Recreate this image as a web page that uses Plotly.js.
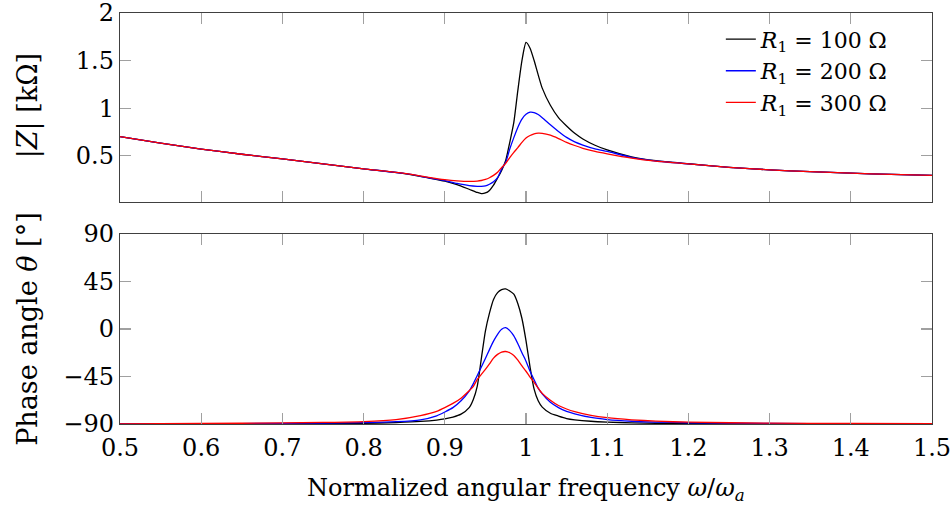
<!DOCTYPE html>
<html><head><meta charset="utf-8">
<script src="https://cdn.plot.ly/plotly-3.0.1.min.js"></script>
<style>html,body{margin:0;padding:0;background:#fff}#chart{width:952px;height:513px}</style>
</head><body><div id="chart"></div>
<script>
// ---- data ----
const seriesNames = ['<i>R</i><sub>1</sub> = 100 Ω', '<i>R</i><sub>1</sub> = 200 Ω', '<i>R</i><sub>1</sub> = 300 Ω'];
const seriesColors = ['#000000', '#0000ff', '#ff0000'];

// |Z| in kΩ vs normalized angular frequency
const omegaMag = [0.5,0.55,0.6,0.65,0.7,0.75,0.8,0.85,0.88,0.9,0.915,0.93,0.94,0.945,0.95,0.955,0.96,0.965,0.97,0.975,0.98,0.985,0.99,0.995,1.0,1.005,1.01,1.015,1.02,1.03,1.04,1.05,1.06,1.07,1.085,1.1,1.13,1.16,1.2,1.25,1.3,1.35,1.4,1.45,1.5];
const magR100 = [0.70,0.632,0.57,0.515,0.466,0.414,0.362,0.312,0.266,0.232,0.196,0.147,0.113,0.102,0.108,0.135,0.19,0.265,0.345,0.45,0.64,0.85,1.19,1.50,1.69,1.63,1.50,1.35,1.21,1.03,0.90,0.812,0.735,0.676,0.61,0.56,0.488,0.447,0.415,0.378,0.351,0.332,0.316,0.303,0.292];
const magR200 = [0.70,0.632,0.57,0.515,0.466,0.414,0.362,0.313,0.268,0.238,0.208,0.185,0.178,0.177,0.182,0.20,0.225,0.27,0.36,0.43,0.57,0.69,0.80,0.885,0.935,0.957,0.953,0.933,0.90,0.826,0.755,0.692,0.645,0.612,0.572,0.545,0.482,0.444,0.414,0.378,0.351,0.332,0.316,0.303,0.292];
const magR300 = [0.70,0.632,0.57,0.515,0.466,0.414,0.362,0.314,0.272,0.248,0.236,0.23,0.233,0.239,0.25,0.268,0.293,0.325,0.375,0.42,0.48,0.535,0.585,0.64,0.685,0.712,0.73,0.737,0.735,0.715,0.68,0.64,0.607,0.578,0.545,0.52,0.475,0.442,0.413,0.378,0.351,0.332,0.316,0.303,0.292];

// phase angle in degrees
const omegaPh = [0.5,0.6,0.7,0.75,0.8,0.84,0.87,0.89,0.9,0.91,0.92,0.93,0.935,0.94,0.945,0.95,0.955,0.96,0.965,0.97,0.975,0.98,0.985,0.99,0.995,1.0,1.005,1.01,1.015,1.02,1.03,1.04,1.05,1.06,1.08,1.1,1.13,1.16,1.2,1.3,1.4,1.5];
const phR100 = [-89.9,-89.8,-89.7,-89.6,-89.4,-88.6,-87.6,-86.3,-85.2,-83.5,-80.7,-74.5,-67,-54,-28,-2,15,28,34.5,37.3,38,36,33,24,10,-11,-36,-57,-68,-74,-79.8,-82.5,-84.8,-86,-87.4,-88.2,-88.9,-89.3,-89.5,-89.8,-89.9,-89.95];
const phR200 = [-89.9,-89.7,-89.4,-89.1,-88.7,-87.8,-86,-82.2,-78.6,-74.5,-68,-58.8,-52,-44,-36,-28,-19.5,-11.5,-5,-0.2,1.3,-1.5,-6.5,-14,-22.5,-30.5,-40,-48,-56,-61.5,-69.5,-74.5,-78,-80.3,-83.8,-85.8,-87.4,-88.2,-88.8,-89.4,-89.7,-89.8];
const phR300 = [-89.8,-89.5,-89.0,-88.5,-87.7,-85.8,-82,-78,-74.5,-70.5,-65.5,-58.5,-54.5,-47.8,-43,-38.2,-33,-27.5,-24,-21.8,-21.3,-22.5,-25,-29.5,-35,-40,-45.5,-50.5,-56,-61,-67.5,-72.5,-75.8,-78.3,-81.8,-84,-86,-87.3,-88.3,-89.2,-89.5,-89.7];

const xTickVals = [0.5,0.6,0.7,0.8,0.9,1.0,1.1,1.2,1.3,1.4,1.5];
const xTickText = ['0.5','0.6','0.7','0.8','0.9','1','1.1','1.2','1.3','1.4','1.5'];
const magTickVals = [0.5,1,1.5,2];
const magTickText = ['0.5','1','1.5','2'];
const phTickVals = [-90,-45,0,45,90];
const phTickText = ['\u221290','\u221245','0','45','90'];

// ---- figure ----
const FONT = 'DejaVu Serif';
const mags = [magR100, magR200, magR300];
const phs = [phR100, phR200, phR300];
const traces = [];
for (let i = 0; i < 3; i++) {
  traces.push({x: omegaMag, y: mags[i], xaxis: 'x', yaxis: 'y', type: 'scatter', mode: 'lines',
    name: seriesNames[i], line: {color: seriesColors[i], width: 1.3, shape: 'spline', smoothing: 0.6}});
}
for (let i = 0; i < 3; i++) {
  traces.push({x: omegaPh, y: phs[i], xaxis: 'x2', yaxis: 'y2', type: 'scatter', mode: 'lines',
    showlegend: false, line: {color: seriesColors[i], width: 1.3, shape: 'spline', smoothing: 0.6}});
}

const axBase = {showline: true, linecolor: '#404040', linewidth: 1.2, mirror: 'ticks', ticks: 'inside',
  ticklen: 11, tickcolor: '#a0a0a0', tickwidth: 1.2, showgrid: false, zeroline: false,
  ticklabeloverflow: 'allow',
  tickfont: {family: FONT, size: 24, color: '#000'}};

const layout = {
  width: 952, height: 513,
  margin: {l: 120, r: 20, t: 12.5, b: 88.7},
  paper_bgcolor: '#fff', plot_bgcolor: '#fff',
  font: {family: FONT, color: '#000'},
  showlegend: true,
  legend: {x: 0.953, xanchor: 'right', y: 0.987, yanchor: 'top', bgcolor: 'rgba(0,0,0,0)',
    font: {family: FONT, size: 22, color: '#000'}, tracegroupgap: 0, itemwidth: 30},
  xaxis: Object.assign({}, axBase, {range: [0.5, 1.5], anchor: 'y', tickvals: xTickVals, showticklabels: false}),
  yaxis: Object.assign({}, axBase, {range: [0.015, 2.0], domain: [0.5406, 1], anchor: 'x', tickvals: magTickVals, ticktext: magTickText}),
  xaxis2: Object.assign({}, axBase, {range: [0.5, 1.5], anchor: 'y2', tickvals: xTickVals, ticktext: xTickText, ticklabelstandoff: 2}),
  yaxis2: Object.assign({}, axBase, {range: [-90, 90], domain: [0, 0.4621], anchor: 'x2', tickvals: phTickVals, ticktext: phTickText}),
  annotations: [
    {text: '|<i>Z</i>| [kΩ]', xref: 'paper', yref: 'paper', x: -0.1133, y: 0.773, textangle: -90,
      showarrow: false, xanchor: 'center', yanchor: 'middle', font: {family: FONT, size: 27, color: '#000'}},
    {text: 'Phase angle <i>θ</i> [°]', xref: 'paper', yref: 'paper', x: -0.1133, y: 0.2292, textangle: -90,
      showarrow: false, xanchor: 'center', yanchor: 'middle', font: {family: FONT, size: 27, color: '#000'}},
    {text: 'Normalized angular frequency <i>ω</i>/<i>ω<sub>a</sub></i>', xref: 'paper', yref: 'paper', x: 0.5, y: -0.1595,
      showarrow: false, xanchor: 'center', yanchor: 'middle', font: {family: FONT, size: 24, color: '#000'}}
  ]
};

Plotly.newPlot('chart', traces, layout, {displayModeBar: false, staticPlot: true});
</script>
</body></html>
